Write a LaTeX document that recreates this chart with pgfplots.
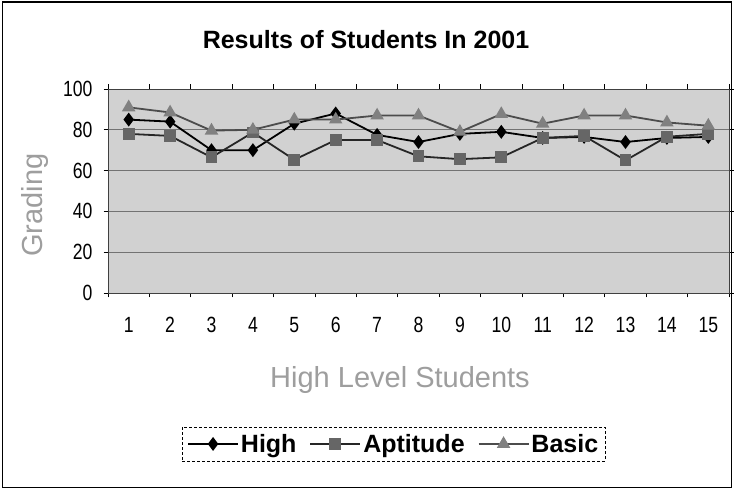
\documentclass[border=0pt]{standalone}
\usepackage{pgfplots}
\pgfplotsset{compat=1.18}
\usepackage{fontspec}
\setmainfont{Liberation Sans}
\newfontfamily\narrow[FakeStretch=0.8]{Liberation Sans}
\begin{document}
\begin{tikzpicture}[x=1pt,y=1pt]
\path[use as bounding box] (0,0) rectangle (734,489);
\fill[white] (0,0) rectangle (734,489);
\draw[line width=1.3pt] (2.5,1.5) rectangle (731.5,487);
\node[font=\fontsize{25}{28}\selectfont\bfseries] at (366,449) {Results of Students In 2001};
\node[font=\fontsize{29}{32}\selectfont, text=black!38] at (400,109) {High Level Students};
\node[font=\fontsize{29}{32}\selectfont, text=black!38, rotate=90] at (35,284) {Grading};
\begin{axis}[
  at={(108pt,196pt)}, anchor=south west,
  scale only axis, width=621pt, height=204pt,
  xmin=0.5, xmax=15.5, ymin=0, ymax=100,
  axis background/.style={fill=black!18},
  axis line style={black!75, line width=0.8pt},
  xtick={1,...,15}, ytick={0,20,...,100},
  minor xtick={0.5,1.5,...,15.5}, minor ytick={0,20,...,100},
  major tick length=0pt, minor tick length=4.5pt, tick align=outside,
  minor tick style={black, line width=0.8pt},
  ymajorgrids, grid style={black!55, line width=0.7pt},
  ticklabel style={font=\narrow\fontsize{22}{24}\selectfont},
  /pgf/number format/assume math mode=true,
  xticklabel style={anchor=base, yshift=-40pt},
  yticklabel style={xshift=-12pt},
  legend columns=3,
  legend style={at={(0.46,-0.74)}, anchor=center, draw=black, densely dashed,
     font=\fontsize{25}{28}\selectfont\bfseries, inner xsep=5pt, inner ysep=5pt,
     /tikz/every even column/.append style={column sep=11pt}},
  legend image code/.code={\draw[mark repeat=2,mark phase=2,#1,solid] plot coordinates {(0pt,0pt) (25pt,0pt) (50pt,0pt)};},
]
\addplot[black, line width=1.8pt, mark=diamond*, mark size=5.5pt, mark options={solid, fill=black}]
coordinates {(1,85) (2,84) (3,70) (4,70) (5,83) (6,88) (7,77.5) (8,74) (9,78) (10,79) (11,76) (12,76.5) (13,74) (14,76) (15,76.5)};
\addlegendentry{High}
\addplot[black!85, line width=1.8pt, mark=square*, mark size=5pt, mark options={solid, fill=black!60, draw=black!60}]
coordinates {(1,78) (2,77) (3,66.5) (4,78.7) (5,65.3) (6,75) (7,75) (8,67) (9,65.6) (10,66.5) (11,76) (12,77) (13,65) (14,76.6) (15,78)};
\addlegendentry{Aptitude}
\addplot[black!70, line width=1.8pt, mark=triangle*, mark size=6pt, mark options={solid, fill=black!50, draw=black!50}]
coordinates {(1,91) (2,88.5) (3,79.6) (4,80) (5,85) (6,85) (7,87) (8,87) (9,79) (10,87.7) (11,83) (12,87) (13,87) (14,83.6) (15,82)};
\addlegendentry{Basic}
\end{axis}
\end{tikzpicture}
\end{document}
